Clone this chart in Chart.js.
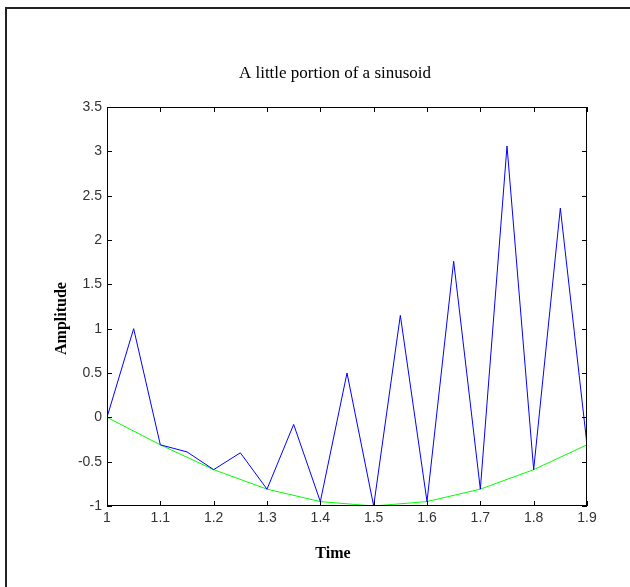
<!DOCTYPE html>
<html>
<head>
<meta charset="utf-8">
<script src="https://cdn.jsdelivr.net/npm/chart.js@4"></script>
<style>
  body { margin: 0; background: #fff; overflow: hidden; }
  #wrap { position: relative; width: 630px; height: 587px; }
  #frame { position: absolute; left: 5px; top: 7px; width: 700px; height: 700px;
           border-top: 2px solid #222; border-left: 2px solid #222; }
  canvas { position: absolute; left: 0; top: 0; }
</style>
</head>
<body>
<div id="wrap">
  <div id="frame"></div>
  <canvas id="plot" width="630" height="587"></canvas>
</div>
<script>
// sampled signal (blue) and underlying sinusoid (green)
const timeFast = [1, 1.05, 1.1, 1.15, 1.2, 1.25, 1.3, 1.35, 1.4, 1.45, 1.5, 1.55, 1.6, 1.65, 1.7, 1.75, 1.8, 1.85, 1.9];
const ampFast = [0, 1.0, -0.31, -0.39, -0.59, -0.4, -0.81, -0.08, -0.95, 0.5, -1.0, 1.15, -0.95, 1.76, -0.81, 3.06, -0.59, 2.36, -0.31];
const timeSlow = [1, 1.1, 1.2, 1.3, 1.4, 1.5, 1.6, 1.7, 1.8, 1.9];
const ampSlow = [0, -0.31, -0.59, -0.81, -0.95, -1.0, -0.95, -0.81, -0.59, -0.31];

const xTicks = [1, 1.1, 1.2, 1.3, 1.4, 1.5, 1.6, 1.7, 1.8, 1.9];
const yTicks = [-1, -0.5, 0, 0.5, 1, 1.5, 2, 2.5, 3, 3.5];

const titleText = 'A little portion of a sinusoid';
const xLabel = 'Time';
const yLabel = 'Amplitude';

const pts = (xs, ys) => xs.map((x, i) => ({ x: x, y: ys[i] }));
const serif = '"Liberation Serif", "Times New Roman", serif';

// box around the axes with inward tick marks on all four sides
const boxPlugin = {
  id: 'box',
  afterDraw(chart) {
    const { ctx, chartArea: a } = chart;
    const xs = chart.scales.x, ys = chart.scales.y;
    ctx.save();
    ctx.strokeStyle = '#000';
    ctx.lineWidth = 1;
    ctx.strokeRect(a.left + 0.5, a.top + 0.5, a.right - a.left - 1, a.bottom - a.top - 1);
    ctx.beginPath();
    xTicks.forEach(v => {
      const px = Math.round(xs.getPixelForValue(v)) + 0.5;
      ctx.moveTo(px, a.bottom); ctx.lineTo(px, a.bottom - 5);
      ctx.moveTo(px, a.top); ctx.lineTo(px, a.top + 5);
    });
    yTicks.forEach(v => {
      const py = Math.round(ys.getPixelForValue(v)) + 0.5;
      ctx.moveTo(a.left, py); ctx.lineTo(a.left + 5, py);
      ctx.moveTo(a.right, py); ctx.lineTo(a.right - 5, py);
    });
    ctx.stroke();

    // title and axis labels, placed like the original figure
    const cx = (a.left + a.right) / 2, cy = (a.top + a.bottom) / 2;
    ctx.fillStyle = '#000';
    ctx.textAlign = 'center';
    ctx.textBaseline = 'alphabetic';
    ctx.font = '17px ' + serif;
    ctx.fillText(titleText, cx - 12, a.top - 29);
    ctx.font = 'bold 16px ' + serif;
    ctx.fillText(xLabel, cx - 14, a.bottom + 52);
    ctx.translate(a.left - 41, cy + 12);
    ctx.rotate(-Math.PI / 2);
    ctx.fillText(yLabel, 0, 0);
    ctx.restore();
  }
};

const tickFont = { family: '"Liberation Sans", Arial, sans-serif', size: 14 };

new Chart(document.getElementById('plot'), {
  type: 'scatter',
  data: {
    datasets: [
      { data: pts(timeFast, ampFast), showLine: true, borderColor: '#0000ff', borderWidth: 1, pointRadius: 0, tension: 0 },
      { data: pts(timeSlow, ampSlow), showLine: true, borderColor: '#00ff00', borderWidth: 1, pointRadius: 0, tension: 0 }
    ]
  },
  options: {
    responsive: false,
    animation: false,
    layout: { padding: { left: 0, right: 43, top: 107, bottom: 0 } },
    plugins: {
      legend: { display: false },
      tooltip: { enabled: false },
      title: { display: false }
    },
    scales: {
      x: {
        type: 'linear',
        min: 1, max: 1.9,
        afterBuildTicks: s => { s.ticks = xTicks.map(v => ({ value: v })); },
        afterFit: s => { s.height = 81; },
        grid: { display: false, drawTicks: false },
        border: { display: false },
        ticks: { color: '#333', font: tickFont, padding: 4, maxRotation: 0, callback: v => String(v) }
      },
      y: {
        min: -1, max: 3.5,
        afterBuildTicks: s => { s.ticks = yTicks.map(v => ({ value: v })); },
        afterFit: s => { s.width = 107; },
        grid: { display: false, drawTicks: false },
        border: { display: false },
        ticks: { color: '#333', font: tickFont, padding: 5, callback: v => String(v) }
      }
    }
  },
  plugins: [boxPlugin]
});
</script>
</body>
</html>
